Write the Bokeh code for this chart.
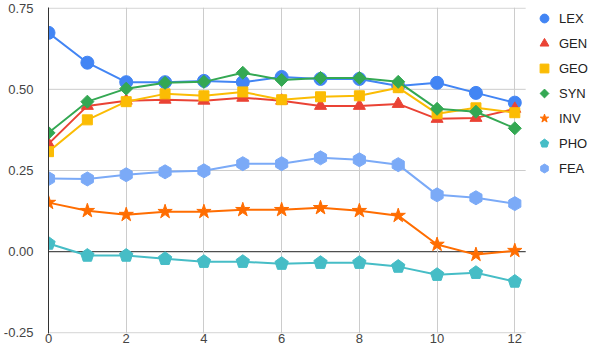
from bokeh.plotting import figure
from bokeh.models import (Range1d, FixedTicker, NumeralTickFormatter,
                          Legend, LegendItem, ColumnDataSource, Ngon)
from bokeh.embed import file_html
from bokeh.resources import INLINE

x = list(range(13))
series_names = ["LEX", "GEN", "GEO", "SYN", "INV", "PHO", "FEA"]
lex = [0.674, 0.582, 0.522, 0.522, 0.526, 0.522, 0.538, 0.532, 0.532, 0.510, 0.520, 0.489, 0.459]
gen = [0.332, 0.449, 0.465, 0.468, 0.465, 0.474, 0.465, 0.449, 0.449, 0.455, 0.409, 0.412, 0.440]
geo = [0.308, 0.406, 0.462, 0.486, 0.480, 0.492, 0.468, 0.477, 0.480, 0.505, 0.425, 0.443, 0.428]
syn = [0.366, 0.462, 0.502, 0.520, 0.523, 0.551, 0.529, 0.535, 0.535, 0.523, 0.440, 0.431, 0.380]
inv = [0.151, 0.126, 0.114, 0.123, 0.123, 0.129, 0.129, 0.135, 0.126, 0.111, 0.022, -0.009, 0.003]
pho = [0.025, -0.012, -0.012, -0.022, -0.031, -0.031, -0.037, -0.034, -0.034, -0.046, -0.071, -0.065, -0.092]
fea = [0.225, 0.224, 0.237, 0.246, 0.249, 0.271, 0.271, 0.289, 0.283, 0.268, 0.175, 0.166, 0.148]
y_ticks = [-0.25, 0.0, 0.25, 0.5, 0.75]
x_ticks = [0, 2, 4, 6, 8, 10, 12]

colors = ["#4285F4", "#EA4335", "#FBBC04", "#34A853", "#FF6D01", "#46BDC6", "#7BAAF7"]
markers = ["circle", "triangle", "square", "diamond", "star", "pentagon", "hexagon"]
data = [lex, gen, geo, syn, inv, pho, fea]

FONT = "Liberation Sans"
X_END = 12.28          # end of the drawn chart area (gridlines stop here)

W, H = 596, 348
TOP, BOTTOM, LEFT = 7, 15, 46

p = figure(width=W, height=H, output_backend="svg", toolbar_location=None,
           x_range=Range1d(0, (W - LEFT) / 39.0), y_range=Range1d(-0.252, 0.752),
           min_border_left=LEFT, min_border_right=0, min_border_top=TOP,
           min_border_bottom=BOTTOM)
p.outline_line_color = None
p.background_fill_color = "white"
p.border_fill_color = "white"

p.xaxis.ticker = FixedTicker(ticks=x_ticks)
p.yaxis.ticker = FixedTicker(ticks=y_ticks)
p.yaxis.formatter = NumeralTickFormatter(format="0.00")
for ax in (p.xaxis[0], p.yaxis[0]):
    ax.major_tick_line_color = None
    ax.minor_tick_line_color = None
    ax.major_tick_out = 0
    ax.major_tick_in = 0
    ax.minor_tick_out = 0
    ax.minor_tick_in = 0
    ax.major_label_text_font = FONT
    ax.major_label_text_font_size = "13px"
    ax.major_label_text_color = "#444444"
p.xaxis.axis_line_color = None
p.yaxis.axis_line_color = "#333333"
p.yaxis.axis_line_width = 1
p.yaxis.major_label_standoff = 15
p.xaxis.major_label_standoff = 0
p.xgrid.grid_line_color = "#cccccc"
p.xgrid.grid_line_width = 1
p.ygrid.grid_line_color = None

# horizontal gridlines that stop at the chart's right edge
p.segment(x0=[0] * len(y_ticks), y0=y_ticks, x1=[X_END] * len(y_ticks), y1=y_ticks,
          line_color="#cccccc", line_width=1, level="underlay")
# baseline at zero
p.segment(x0=[0], y0=[0], x1=[X_END], y1=[0], line_color="#333333", line_width=1,
          level="underlay")

ngon_sides = {"diamond": 4, "pentagon": 5, "hexagon": 6}
ngon_radius = {"diamond": 6.5, "pentagon": 7, "hexagon": 7}
scatter_size = {"circle": 13, "triangle": 12, "square": 10, "star": 15}

items = []
for name, col, mk, ys in zip(series_names, colors, markers, data):
    src = ColumnDataSource(dict(x=x, y=ys))
    p.line("x", "y", source=src, line_color=col, line_width=2)
    if mk in ngon_sides:
        g = Ngon(x="x", y="y", radius=ngon_radius[mk], n=ngon_sides[mk], angle=0.0,
                 fill_color=col, line_color=col)
        g.radius_units = "screen"
        r = p.add_glyph(src, g)
    else:
        r = p.scatter("x", "y", source=src, marker=mk, size=scatter_size[mk],
                      fill_color=col, line_color=col)
    items.append(LegendItem(label=name, renderers=[r]))

frame_h = H - TOP - BOTTOM
leg_h = 7 * 22 + 6 * 3
legend = Legend(items=items, location=(484, frame_h - leg_h), glyph_width=24,
                glyph_height=22, label_height=22, spacing=3, label_standoff=3,
                padding=0, margin=0, border_line_color=None, background_fill_alpha=0,
                label_text_font=FONT, label_text_font_size="13px",
                label_text_color="#222222")
p.add_layout(legend, "center")

open("out.html", "w").write(file_html(p, INLINE))
